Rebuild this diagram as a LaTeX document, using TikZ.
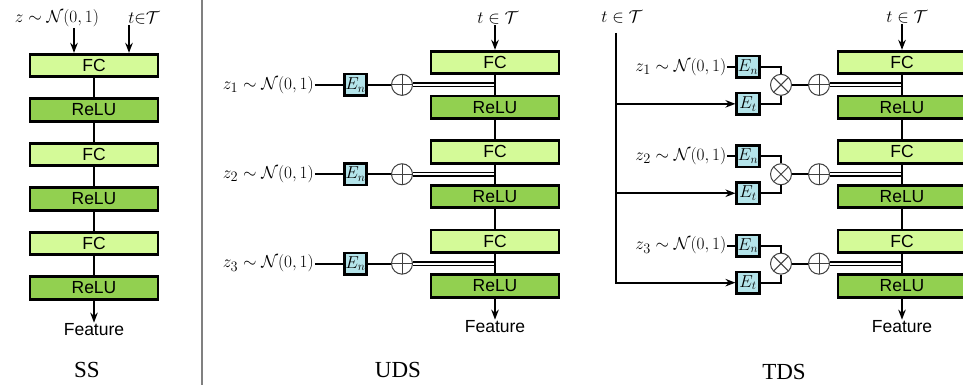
\documentclass[tikz,border=0pt]{standalone}
\usepackage{fontspec}
\setmainfont{Liberation Serif}
\setsansfont{Liberation Sans}
\usetikzlibrary{positioning, arrows.meta, calc}
\definecolor{fcgreen}{RGB}{212,250,152}
\definecolor{relugreen}{RGB}{146,208,80}
\definecolor{encyan}{RGB}{180,228,234}
\tikzset{
  arr/.style={-{Stealth[length=10pt,width=7.5pt]}, line width=2.2pt},
  ln/.style={line width=2.2pt},
  dln/.style={line width=1.4pt, double=white, double distance=2pt},
  blk/.style={draw=black, line width=2.8pt, minimum width=128pt, minimum height=22.5pt, inner sep=0pt, font=\sffamily\fontsize{17.5}{20}\selectfont},
  fcbox/.style={blk, fill=fcgreen},
  relubox/.style={blk, fill=relugreen},
  enc/.style={draw=black, line width=2.6pt, fill=encyan, minimum width=22.5pt, minimum height=21.5pt, inner sep=0pt, font=\fontsize{18.5}{22}\selectfont},
  mth/.style={inner sep=1pt, font=\fontsize{19}{22}\selectfont},
  ftr/.style={inner sep=1pt, font=\sffamily\fontsize{17.5}{20}\selectfont},
  panel/.style={inner sep=1pt, font=\fontsize{23}{26}\selectfont},
  oplus/.style={circle, draw=black!75, line width=1pt, minimum size=21pt, inner sep=0pt, fill=white,
    path picture={\draw[black!75, line width=1pt]
      (path picture bounding box.north) -- (path picture bounding box.south)
      (path picture bounding box.west) -- (path picture bounding box.east);}},
  otimes/.style={circle, draw=black!75, line width=1pt, minimum size=21pt, inner sep=0pt, fill=white,
    path picture={\draw[black!75, line width=1pt]
      (path picture bounding box.north west) -- (path picture bounding box.south east)
      (path picture bounding box.north east) -- (path picture bounding box.south west);}}
}

\begin{document}
\begin{tikzpicture}[x=1pt, y=-1pt]
\useasboundingbox (0,0) rectangle (963,385);

% --- SS ---
\node[fcbox] (s1) at (94,65.5) {FC};
\node[relubox, below=19.2pt of s1] (s2) {ReLU};
\node[fcbox, below=19.2pt of s2] (s3) {FC};
\node[relubox, below=19.2pt of s3] (s4) {ReLU};
\node[fcbox, below=19.2pt of s4] (s5) {FC};
\node[relubox, below=19.2pt of s5] (s6) {ReLU};
\node[ftr, below=22pt of s6] (sf) {Feature};
\node[mth] (sz) at (57,18) {$z\sim\mathcal{N}(0,1)$};
\node[mth] (st) at (144,18) {$t{\in}\mathcal{T}$};
\draw[arr] ([xshift=17pt]sz.south) -- ([xshift=17pt]sz.south |- s1.north);
\draw[arr] ([xshift=-15pt]st.south) -- ([xshift=-15pt]st.south |- s1.north);
\draw[ln] (s1) -- (s2); \draw[ln] (s2) -- (s3); \draw[ln] (s3) -- (s4);
\draw[ln] (s4) -- (s5); \draw[ln] (s5) -- (s6);
\draw[arr] (s6) -- (sf);
\node[panel] (sl) at (87,370) {SS};

\draw[line width=2pt, black!50] (202,0) -- (202,385);

% --- UDS ---
\node[fcbox] (u1) at (495,62.5) {FC};
\node[relubox, below=19.4pt of u1] (u2) {ReLU};
\node[fcbox, below=19.4pt of u2] (u3) {FC};
\node[relubox, below=19.4pt of u3] (u4) {ReLU};
\node[fcbox, below=19.4pt of u4] (u5) {FC};
\node[relubox, below=19.4pt of u5] (u6) {ReLU};
\node[ftr, below=21pt of u6] (uf) {Feature};
\node[mth] (ut) at (498,18) {$t\in\mathcal{T}$};
\draw[arr] (ut.south -| u1.north) -- (u1.north);
\coordinate (um1) at ($(u1.south)!0.5!(u2.north)$);
\coordinate (um2) at ($(u3.south)!0.5!(u4.north)$);
\coordinate (um3) at ($(u5.south)!0.5!(u6.north)$);
\node[oplus, left=82pt of um1] (uo1) {};
\node[oplus, left=82pt of um2] (uo2) {};
\node[oplus, left=82pt of um3] (uo3) {};
\node[enc, left=23pt of uo1] (ue1) {$E_n$};
\node[enc, left=23pt of uo2] (ue2) {$E_n$};
\node[enc, left=23pt of uo3] (ue3) {$E_n$};
\node[mth, left=28pt of ue1] (uz1) {$z_1\sim\mathcal{N}(0,1)$};
\node[mth, left=28pt of ue2] (uz2) {$z_2\sim\mathcal{N}(0,1)$};
\node[mth, left=28pt of ue3] (uz3) {$z_3\sim\mathcal{N}(0,1)$};
\draw[ln] (uz1) -- (ue1) -- (uo1); \draw[dln] (uo1) -- (um1);
\draw[ln] (uz2) -- (ue2) -- (uo2); \draw[dln] (uo2) -- (um2);
\draw[ln] (uz3) -- (ue3) -- (uo3); \draw[dln] (uo3) -- (um3);
\draw[ln] (u1) -- (u2); \draw[ln] (u2) -- (u3); \draw[ln] (u3) -- (u4);
\draw[ln] (u4) -- (u5); \draw[ln] (u5) -- (u6);
\draw[arr] (u6) -- (uf);
\node[panel] (ul) at (398,370) {UDS};

% --- TDS ---
\node[fcbox] (d1) at (902,62.5) {FC};
\node[relubox, below=19.4pt of d1] (d2) {ReLU};
\node[fcbox, below=19.4pt of d2] (d3) {FC};
\node[relubox, below=19.4pt of d3] (d4) {ReLU};
\node[fcbox, below=19.4pt of d4] (d5) {FC};
\node[relubox, below=19.4pt of d5] (d6) {ReLU};
\node[ftr, below=21pt of d6] (df) {Feature};
\node[mth] (dtt) at (907,17) {$t\in\mathcal{T}$};
\draw[arr] (dtt.south -| d1.north) -- (d1.north);
\coordinate (dm1) at ($(d1.south)!0.5!(d2.north)$);
\coordinate (dm2) at ($(d3.south)!0.5!(d4.north)$);
\coordinate (dm3) at ($(d5.south)!0.5!(d6.north)$);
\node[oplus, left=72pt of dm1] (do1) {};
\node[oplus, left=72pt of dm2] (do2) {};
\node[oplus, left=72pt of dm3] (do3) {};
\node[otimes, left=16pt of do1] (dx1) {};
\node[otimes, left=16pt of do2] (dx2) {};
\node[otimes, left=16pt of do3] (dx3) {};
\node[enc] (dn1) at ($(dx1)+(-33,-18)$) {$E_n$};
\node[enc] (dn2) at ($(dx2)+(-33,-18)$) {$E_n$};
\node[enc] (dn3) at ($(dx3)+(-33,-18)$) {$E_n$};
\node[enc] (de1) at ($(dx1)+(-33,19)$) {$E_t$};
\node[enc] (de2) at ($(dx2)+(-33,19)$) {$E_t$};
\node[enc] (de3) at ($(dx3)+(-33,19)$) {$E_t$};
\node[mth, left=8pt of dn1] (dz1) {$z_1\sim\mathcal{N}(0,1)$};
\node[mth, left=8pt of dn2] (dz2) {$z_2\sim\mathcal{N}(0,1)$};
\node[mth, left=8pt of dn3] (dz3) {$z_3\sim\mathcal{N}(0,1)$};
\node[mth] (dt) at (622,17) {$t\in\mathcal{T}$};
\coordinate (dv) at (616,33);
\draw[arr] (dv) |- (de3);
\draw[arr] (dv |- de1) -- (de1);
\draw[arr] (dv |- de2) -- (de2);
\draw[ln] (dz1) -- (dn1); \draw[ln] (dn1) -| (dx1); \draw[ln] (de1) -| (dx1);
\draw[ln] (dz2) -- (dn2); \draw[ln] (dn2) -| (dx2); \draw[ln] (de2) -| (dx2);
\draw[ln] (dz3) -- (dn3); \draw[ln] (dn3) -| (dx3); \draw[ln] (de3) -| (dx3);
\draw[ln] (dx1) -- (do1); \draw[dln] (do1) -- (dm1);
\draw[ln] (dx2) -- (do2); \draw[dln] (do2) -- (dm2);
\draw[ln] (dx3) -- (do3); \draw[dln] (do3) -- (dm3);
\draw[ln] (d1) -- (d2); \draw[ln] (d2) -- (d3); \draw[ln] (d3) -- (d4);
\draw[ln] (d4) -- (d5); \draw[ln] (d5) -- (d6);
\draw[arr] (d6) -- (df);
\node[panel] (dl) at (784,372) {TDS};
\end{tikzpicture}
\end{document}
